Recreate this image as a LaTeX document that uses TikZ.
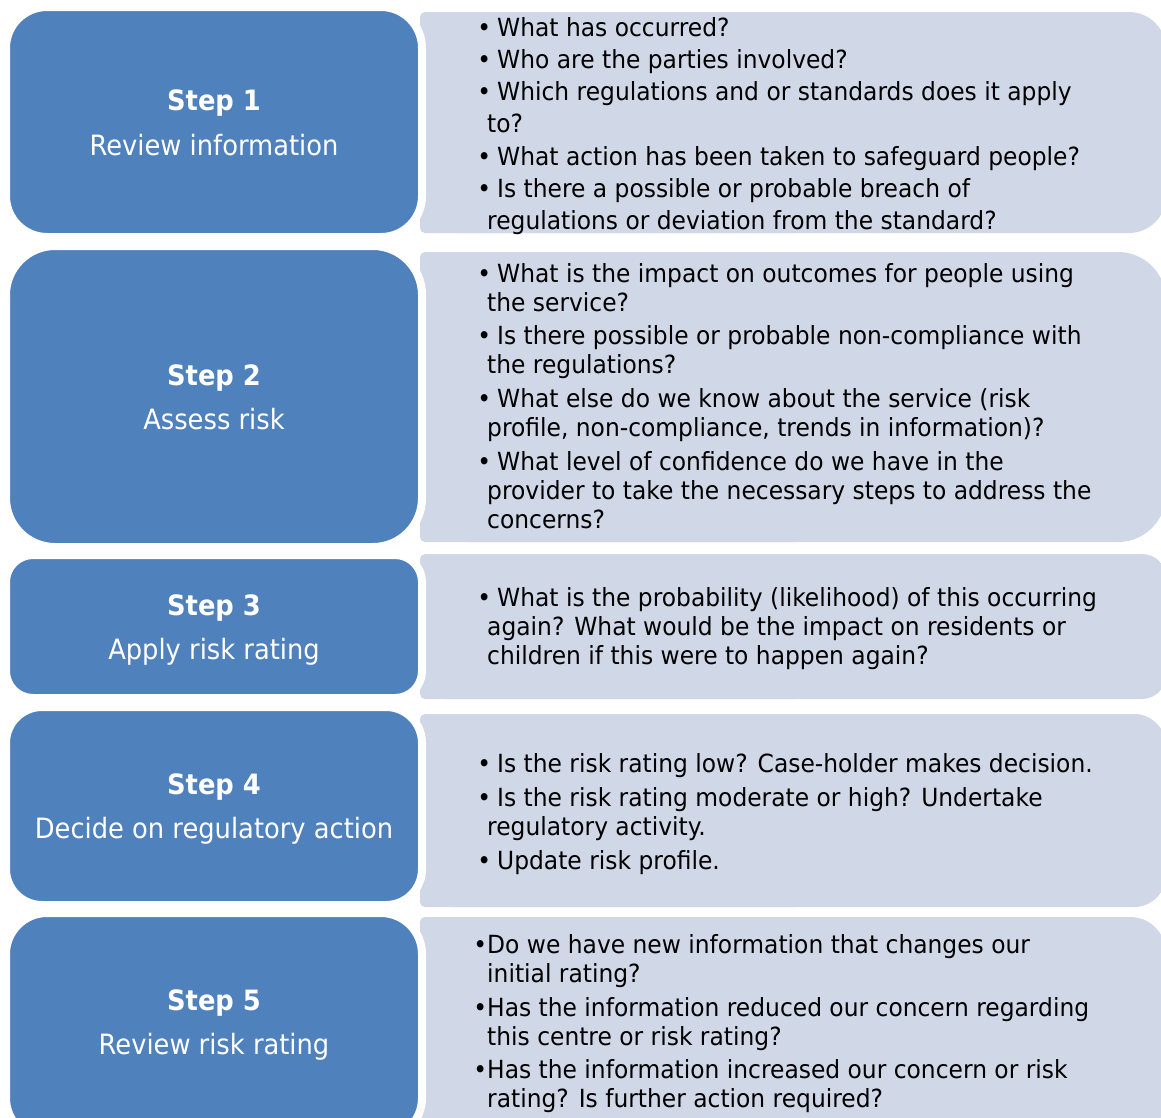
\documentclass[tikz,border=0pt]{standalone}
\usepackage{fontspec}
\setmainfont{DejaVu Sans}[FakeStretch=0.92]
\newfontfamily\itemfont{DejaVu Sans}[FakeStretch=0.935]
\definecolor{dkblue}{HTML}{4F81BD}
\definecolor{ltblue}{HTML}{D0D8E8}
\newcommand\LtBox[3]{%
  \fill[ltblue, rounded corners=#3] (420,#1) rectangle (1166,#2);
  \fill[ltblue, rounded corners=5] (420,#1) rectangle (800,#2);}
\newcommand\DkBox[3]{%
  \filldraw[fill=dkblue, draw=white, line width=8pt, rounded corners=#3] (6,#1) rectangle (422,#2);}
\newcommand\Bul{\llap{•\hspace{6pt}}}
\begin{document}
\begin{tikzpicture}[x=1pt,y=-1pt,
  stepttl/.style={text=white, font=\fontsize{28}{32}\selectfont\bfseries, anchor=base, inner sep=0pt},
  stepsub/.style={text=white, font=\fontsize{28}{32}\selectfont, anchor=base, inner sep=0pt},
  item/.style={font=\itemfont\fontsize{25}{28}\selectfont, anchor=base west, inner sep=0pt}]
\clip (0,0) rectangle (1161,1117);
\fill[white] (0,0) rectangle (1161,1117);
% light boxes
\LtBox{12}{233}{37}
\LtBox{252}{542}{48}
\LtBox{554}{699}{24}
\LtBox{714}{907}{32}
\LtBox{917}{1135}{36}
% dark boxes
\DkBox{7}{237}{41}
\DkBox{246}{547}{49}
\DkBox{555}{698}{27}
\DkBox{707}{905}{36}
\DkBox{913}{1139}{41}
% step titles
\node[stepttl] (s1t) at (214,110) {Step 1};
\node[stepsub] (s1s) at (214,155) {Review information};
\node[stepttl] (s2t) at (214,385) {Step 2};
\node[stepsub] (s2s) at (214,429) {Assess risk};
\node[stepttl] (s3t) at (214,615) {Step 3};
\node[stepsub] (s3s) at (214,659) {Apply risk rating};
\node[stepttl] (s4t) at (214,794) {Step 4};
\node[stepsub] (s4s) at (214,838) {Decide on regulatory action};
\node[stepttl] (s5t) at (214,1010) {Step 5};
\node[stepsub] (s5s) at (214,1054) {Review risk rating};
% box 1
\node[item] (a1) at (497,36) {\Bul What has occurred?};
\node[item] (a2) at (497,68) {\Bul Who are the parties involved?};
\node[item] (a3) at (497,100) {\Bul Which regulations and or standards does it apply};
\node[item] (a4) at (487,132) {to?};
\node[item] (a5) at (497,165) {\Bul What action has been taken to safeguard people?};
\node[item] (a6) at (497,197) {\Bul Is there a possible or probable breach of};
\node[item] (a7) at (487,229) {regulations or deviation from the standard?};
% box 2
\node[item] (b1) at (497,282) {\Bul What is the impact on outcomes for people using};
\node[item] (b2) at (487,311) {the service?};
\node[item] (b3) at (497,344) {\Bul Is there possible or probable non-compliance with};
\node[item] (b4) at (487,373) {the regulations?};
\node[item] (b5) at (497,407) {\Bul What else do we know about the service (risk};
\node[item] (b6) at (487,436) {profile, non-compliance, trends in information)?};
\node[item] (b7) at (497,470) {\Bul What level of confidence do we have in the};
\node[item] (b8) at (487,499) {provider to take the necessary steps to address the};
\node[item] (b9) at (487,528) {concerns?};
% box 3
\node[item] (c1) at (497,606) {\Bul What is the probability (likelihood) of this occurring};
\node[item] (c2) at (487,635) {again? What would be the impact on residents or};
\node[item] (c3) at (487,664) {children if this were to happen again?};
% box 4
\node[item] (d1) at (497,772) {\Bul Is the risk rating low? Case-holder makes decision.};
\node[item] (d2) at (497,806) {\Bul Is the risk rating moderate or high? Undertake};
\node[item] (d3) at (487,835) {regulatory activity.};
\node[item] (d4) at (497,869) {\Bul Update risk profile.};
% box 5
\node[item] (e1) at (487,953) {\llap{•}Do we have new information that changes our};
\node[item] (e2) at (487,982) {initial rating?};
\node[item] (e3) at (487,1016) {\llap{•}Has the information reduced our concern regarding};
\node[item] (e4) at (487,1045) {this centre or risk rating?};
\node[item] (e5) at (487,1078) {\llap{•}Has the information increased our concern or risk};
\node[item] (e6) at (487,1107) {rating? Is further action required?};
\end{tikzpicture}
\end{document}
